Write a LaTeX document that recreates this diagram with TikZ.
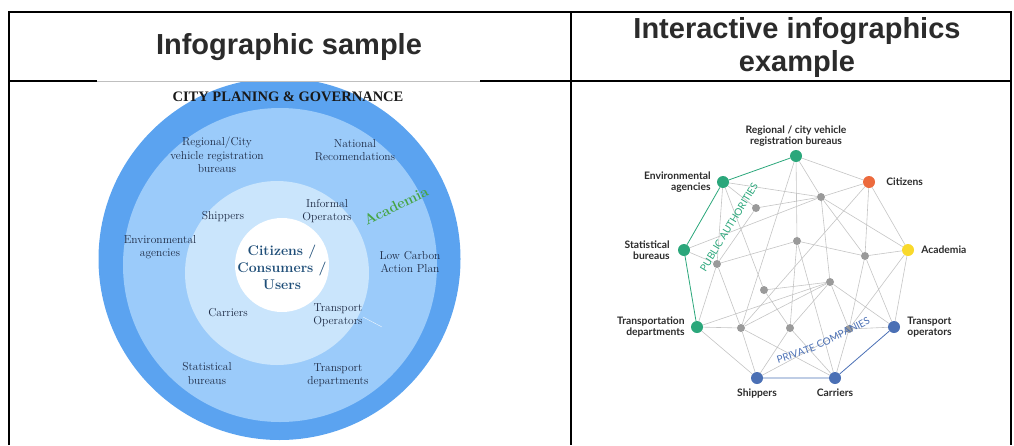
\documentclass[tikz,border=0pt]{standalone}
\usepackage{fontspec}
\newfontfamily\headfont{Liberation Sans}
\newfontfamily\capfont{Liberation Serif}
\newfontfamily\netfont{Lato}
\usetikzlibrary{positioning,decorations.text}
\definecolor{ringa}{HTML}{5BA3F0}
\definecolor{ringb}{HTML}{9BCBFA}
\definecolor{ringc}{HTML}{CAE5FC}
\definecolor{navy}{HTML}{1E2B45}
\definecolor{coreblue}{HTML}{1F4E78}
\definecolor{acadgreen}{HTML}{47A547}
\definecolor{headgray}{HTML}{2B2B2B}
\definecolor{pgreen}{HTML}{2BA77B}
\definecolor{porange}{HTML}{EC6A3D}
\definecolor{pyellow}{HTML}{F9D92C}
\definecolor{pblue}{HTML}{4B70B5}
\definecolor{dotgray}{HTML}{9A9A9A}
\definecolor{linkgray}{HTML}{C4C4C4}
\tikzset{
rule/.style = {draw=black, line width=1.3pt},
cell/.style = {font=\headfont\bfseries\fontsize{29}{33}\selectfont, text=headgray, align=center},
lbl/.style = {font=\fontsize{11.5}{13.3}\selectfont, text=navy, align=center, inner sep=0pt},
core/.style = {font=\bfseries\fontsize{14}{17}\selectfont, text=coreblue, align=center, inner sep=0pt},
hub/.style = {circle, inner sep=0pt, minimum size=12pt},
dot/.style = {circle, fill=dotgray, inner sep=0pt, minimum size=8pt},
tag/.style = {font=\netfont\bfseries\fontsize{10.3}{11.5}\selectfont, text=headgray, inner sep=1pt},
link/.style = {draw=linkgray, line width=0.6pt},
publine/.style = {draw=pgreen, line width=0.8pt},
privline/.style = {draw=pblue, line width=0.8pt}
}
\begin{document}
\begin{tikzpicture}[x=1pt, y=-1pt]
  \useasboundingbox (0,0) rectangle (1014,445);
  \draw[rule] (9,445) -- (9,12) -- (1011,12) -- (1011,445);
  \draw[rule] (571,12) -- (571,445);
  \draw[rule] (9,81) -- (97,81);
  \draw[rule] (480,81) -- (1011,81);
  \draw[gray!50, thin] (97,81) -- (480,81);

  \node [cell] (headleft)  at (289,47) {Infographic sample};
  \node [cell] (headright) at (797,47) {Interactive infographics\\example};

  \begin{scope}
    \clip (97,82) rectangle (480,445);
    \fill [ringa] (279.5,259) circle (181);
    \fill [ringb] (280,265) circle (157);
    \fill [ringc] (277,273) circle (92);
    \fill [white] (282,265) circle (47);
  \end{scope}
  \draw [white!70!ringc, thin] (363,317) -- (382,327);

  \node [lbl, font=\capfont\bfseries\fontsize{14.5}{16}\selectfont, text=black!90] (cityhead) at (288,97) {CITY PLANING \& GOVERNANCE};
  \node [lbl] (regional)  at (217,155)   {Regional/City\\vehicle registration\\bureaus};
  \node [lbl] (national)  at (355,150)   {National\\Recomendations};
  \node [lbl] (shipin)    at (223,217)   {Shippers};
  \node [lbl] (informal)  at (327,211)   {Informal\\Operators};
  \node [lbl] (envin)     at (160,247)   {Environmental\\agencies};
  \node [core] (citizens) at (282,267)   {Citizens /\\Consumers /\\Users};
  \node [lbl] (lowcarbon) at (410,262)   {Low Carbon\\Action Plan};
  \node [lbl] (carrin)    at (228,313)   {Carriers};
  \node [lbl] (tropin)    at (338,315)   {Transport\\Operators};
  \node [lbl] (statin)    at (207,373.5) {Statistical\\bureaus};
  \node [lbl] (tdepin)    at (338,375.5) {Transport\\departments};
  \node [lbl, font=\bfseries\fontsize{14.5}{17}\selectfont, text=acadgreen, rotate=26] (academia) at (396,206) {Academia};

  \node [hub, fill=pgreen]  (regbur) at (796,156) {};
  \node [hub, fill=pgreen]  (envag)  at (723,182) {};
  \node [hub, fill=porange] (citz)   at (869,182) {};
  \node [hub, fill=pgreen]  (statb)  at (684,250) {};
  \node [hub, fill=pyellow] (acad)   at (908,250) {};
  \node [hub, fill=pgreen]  (tdep)   at (697,327) {};
  \node [hub, fill=pblue]   (topr)   at (894,327) {};
  \node [hub, fill=pblue]   (ship)   at (757,378) {};
  \node [hub, fill=pblue]   (carr)   at (835,378) {};
  \node [dot] (mid1)  at (821,197) {};
  \node [dot] (mid2)  at (756,208) {};
  \node [dot] (mid3)  at (797,241) {};
  \node [dot] (mid4)  at (865,256) {};
  \node [dot] (mid5)  at (717,264) {};
  \node [dot] (mid6)  at (764,290) {};
  \node [dot] (mid7)  at (830,282) {};
  \node [dot] (mid8)  at (741,328) {};
  \node [dot] (mid9)  at (790,328) {};
  \node [dot] (mid10) at (849,329) {};

  \node [tag, above=2pt of regbur, align=center] (regtag)  {Regional / city vehicle\\registration bureaus};
  \node [tag, left=5pt of envag, align=right]    (envtag)  {Environmental\\agencies};
  \node [tag, right=10pt of citz]                (citztag) {Citizens};
  \node [tag, left=7pt of statb, align=right]    (stattag) {Statistical\\bureaus};
  \node [tag, right=6pt of acad]                 (acadtag) {Academia};
  \node [tag, left=5pt of tdep, align=right]     (tdeptag) {Transportation\\departments};
  \node [tag, right=6pt of topr, align=left]     (toprtag) {Transport\\operators};
  \node [tag, below=3pt of ship]                 (shiptag) {Shippers};
  \node [tag, below=3pt of carr]                 (carrtag) {Carriers};

  \draw [link] (regbur) -- (citz) (regbur) -- (mid1) (regbur) -- (mid3) (regbur) -- (mid8)
               (envag) -- (mid1) (envag) -- (mid2) (envag) -- (mid5) (envag) -- (mid6)
               (citz) -- (mid1) (citz) -- (mid4) (citz) -- (acad) (citz) -- (mid8)
               (statb) -- (mid1) (statb) -- (mid5);
  \draw [link] (acad) -- (mid1) (acad) -- (mid4) (acad) -- (topr) (acad) -- (mid10)
               (tdep) -- (mid8) (tdep) -- (mid5) (tdep) -- (mid7) (tdep) -- (ship)
               (topr) -- (mid10) (topr) -- (mid7) (topr) -- (mid4)
               (ship) -- (mid8) (ship) -- (mid9) (ship) -- (mid10)
               (carr) -- (mid8) (carr) -- (mid3) (carr) -- (mid10) (carr) -- (mid9);
  \draw [link] (mid1) -- (mid4) (mid1) -- (mid7) (mid1) -- (mid2)
               (mid2) -- (mid5) (mid3) -- (mid4) (mid3) -- (mid5) (mid3) -- (mid9)
               (mid5) -- (mid8) (mid6) -- (mid7) (mid6) -- (mid9) (mid7) -- (mid9)
               (mid7) -- (mid10) (mid8) -- (mid7) (mid4) -- (mid10);

  \draw [publine] (regbur) -- (envag) -- (statb) -- (tdep);
  \draw [privline] (ship) -- (carr) -- (topr);

  \node [font=\netfont\fontsize{10}{12}\selectfont, text=pgreen, rotate=58.6, inner sep=0pt] (pubtag) at (729,227) {PUBLIC AUTHORITIES};
  \path [decorate, decoration={text along path, text align=center,
         text={|\netfont\fontsize{10}{12}\selectfont\color{pblue}|PRIVATE COMPANIES}}]
        (768,366) .. controls (815,352) .. (880,318);
\end{tikzpicture}
\end{document}
